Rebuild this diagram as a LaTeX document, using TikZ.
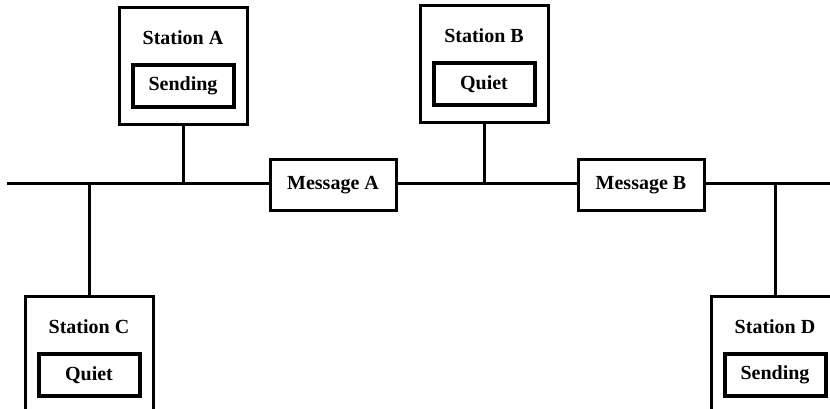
\documentclass[tikz,border=0pt]{standalone}
\usepackage{fontspec}
\setmainfont{Liberation Serif}
\usetikzlibrary{positioning}

\begin{document}
\begin{tikzpicture}[x=1pt,y=-1pt,
  station/.style={draw, line width=3pt, minimum width=128pt, minimum height=117pt, inner sep=0pt},
  state/.style={draw, line width=4pt, minimum width=101pt, minimum height=42pt, inner sep=0pt, font=\bfseries\fontsize{20}{24}\selectfont},
  msg/.style={draw, line width=3pt, minimum width=126pt, minimum height=50pt, inner sep=0pt, font=\bfseries\fontsize{20}{24}\selectfont},
  title/.style={inner sep=0pt, font=\bfseries\fontsize{20}{24}\selectfont},
  link/.style={line width=3pt}]
\useasboundingbox (0,0) rectangle (830,409);
\clip (0,0) rectangle (830,409);
% the shared line
\coordinate (busL) at (7,183);
\coordinate (busR) at (835,183);
\node[msg] (msgA) at (333,185) {Message A};
\node[msg] (msgB) at (641,185) {Message B};
\draw[link] (busL) -- (msgA.west |- busL);
\draw[link] (msgA.east |- busL) -- (msgB.west |- busL);
\draw[link] (msgB.east |- busL) -- (busR);
% stations
\foreach \n/\x/\y/\s in {A/183/66/Sending,B/484/64/Quiet,C/89/355/Quiet,D/775/355/Sending} {
  \node[station] (st\n) at (\x,\y) {};
  \node[title] (ti\n) at ([yshift=28pt]st\n.center) {Station \n};
  \node[state] (sx\n) at ([yshift=-20pt]st\n.center) {\s};
}
\draw[link] (stA.south) -- (stA.south |- busL);
\draw[link] (stB.south) -- (stB.south |- busL);
\draw[link] (stC.north |- busL) -- (stC.north);
\draw[link] (stD.north |- busL) -- (stD.north);
\end{tikzpicture}
\end{document}
